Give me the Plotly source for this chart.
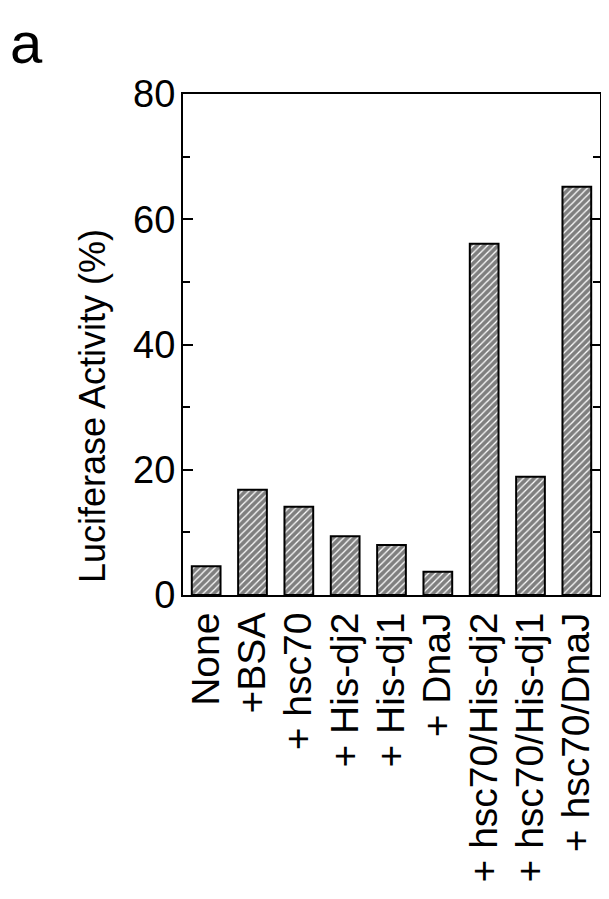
import plotly.graph_objects as go

# Data
conditions = ['None', '+BSA', '+ hsc70', '+ His-dj2', '+ His-dj1', '+ DnaJ',
              '+ hsc70/His-dj2', '+ hsc70/His-dj1', '+ hsc70/DnaJ']
activity = [4.6, 16.8, 14.1, 9.4, 8.0, 3.7, 56.1, 18.9, 65.2]

# page body has an 8px margin, so the figure is a bit smaller than the window
W, H = 601, 891
ml, mr, mt, mb = 175, 9, 86, 304
font = 'Liberation Sans, Arial, sans-serif'

fig = go.Figure()
fig.add_trace(go.Bar(
    x=conditions,
    y=activity,
    marker=dict(
        color='white',
        line=dict(color='black', width=2),
        pattern=dict(shape='/', fgcolor='black', bgcolor='white',
                     size=5, solidity=0.75),
    ),
))

fig.update_layout(
    width=W, height=H,
    margin=dict(l=ml, r=mr, t=mt, b=mb, autoexpand=False),
    paper_bgcolor='white', plot_bgcolor='white',
    showlegend=False,
    bargap=0.38,
    font=dict(family=font, color='black'),
)

fig.update_xaxes(
    showline=True, linecolor='black', linewidth=2, mirror=True,
    ticks='', tickangle=-90, tickmode='linear', tick0=0, dtick=1,
    tickfont=dict(size=39, family=font, color='black'),
    showgrid=False,
)
fig.update_yaxes(
    range=[0, 80], dtick=20,
    showline=True, linecolor='black', linewidth=2, mirror='ticks',
    ticks='inside', ticklen=10, tickwidth=2, tickcolor='black',
    minor=dict(dtick=10, ticks='inside', ticklen=7, tickwidth=2,
               tickcolor='black', showgrid=False),
    tickfont=dict(size=38, family=font, color='black'),
    ticklabelstandoff=-2,
    showgrid=False, zeroline=False,
)

pw = W - ml - mr
ph = H - mt - mb
fig.add_annotation(
    text='Luciferase Activity (%)', textangle=-90,
    xref='paper', yref='paper',
    x=(84 - ml) / pw, y=1 - (398 - mt) / ph,
    xanchor='center', yanchor='middle', showarrow=False,
    font=dict(size=36, family=font, color='black'),
)
fig.add_annotation(
    text='a',
    xref='paper', yref='paper',
    x=(0 - ml) / pw, y=1 + mt / ph,
    xanchor='left', yanchor='top', showarrow=False,
    font=dict(size=58, family=font, color='black'),
)

fig.write_html('out.html')
